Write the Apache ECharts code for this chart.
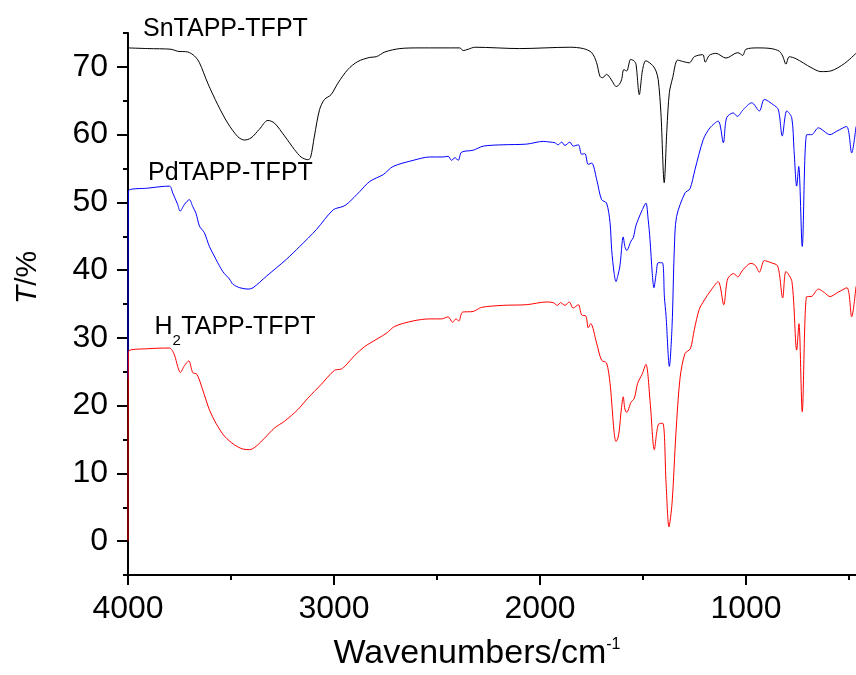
<!DOCTYPE html>
<html>
<head>
<meta charset="utf-8">
<script src="https://cdn.jsdelivr.net/npm/echarts@6/dist/echarts.min.js"></script>
<style>
  html, body { margin: 0; padding: 0; background: #fff; }
  #chart { width: 856px; height: 675px; }
</style>
</head>
<body>
<div id="chart"></div>
<script>
// FTIR transmittance spectra (wavenumber in cm^-1, transmittance in %)
const snWave = [4000, 3904, 3791, 3759, 3710, 3677, 3653, 3613, 3564, 3516, 3467, 3435, 3403, 3362, 3321, 3289, 3240, 3192, 3160, 3127, 3114, 3095, 3070, 3046, 3014, 2981, 2933, 2884, 2826, 2794, 2753, 2680, 2583, 2389, 2373, 2349, 2316, 2098, 1855, 1790, 1749, 1725, 1709, 1696, 1677, 1656, 1640, 1631, 1615, 1604, 1593, 1579, 1560, 1544, 1534, 1518, 1502, 1486, 1453, 1437, 1426, 1413, 1397, 1384, 1372, 1356, 1332, 1307, 1275, 1251, 1210, 1198, 1178, 1146, 1097, 1040, 1016, 1000, 943, 878, 838, 822, 806, 790, 757, 684, 636, 588, 522, 466];
const snT = [72.8, 72.7, 72.6, 72.3, 72.2, 71.6, 70.6, 67.6, 64.4, 61.7, 59.7, 59.2, 59.5, 60.8, 62.1, 61.7, 59.8, 57.8, 56.7, 56.3, 56.6, 59.8, 63.7, 65.2, 65.9, 67.6, 69.6, 70.8, 71.4, 71.5, 72.2, 72.7, 72.8, 72.8, 72.4, 72.6, 72.9, 72.7, 72.9, 72.7, 72.1, 70.6, 68.6, 68.4, 68.9, 68.2, 67.4, 67.1, 67.4, 68.1, 69.6, 69.4, 71.1, 70.9, 70.4, 65.9, 69.6, 70.9, 70.2, 69.4, 68.1, 63.2, 52.9, 60.8, 66.2, 68.4, 71.0, 70.8, 70.6, 71.5, 71.8, 70.7, 71.7, 72.0, 71.3, 72.1, 71.7, 72.6, 72.8, 72.7, 72.3, 71.6, 70.4, 71.5, 71.2, 69.9, 69.3, 69.4, 70.5, 72.0];

const pdWave = [4000, 3998, 3904, 3799, 3783, 3759, 3747, 3726, 3702, 3686, 3670, 3653, 3629, 3605, 3573, 3540, 3508, 3490, 3457, 3417, 3393, 3328, 3231, 3166, 3085, 3004, 2956, 2931, 2875, 2826, 2761, 2713, 2616, 2535, 2470, 2446, 2429, 2413, 2397, 2381, 2324, 2276, 2179, 2065, 1984, 1952, 1928, 1912, 1895, 1879, 1855, 1839, 1814, 1798, 1782, 1766, 1749, 1725, 1701, 1677, 1660, 1652, 1640, 1631, 1622, 1612, 1596, 1588, 1579, 1558, 1547, 1535, 1523, 1505, 1486, 1475, 1466, 1455, 1447, 1436, 1426, 1406, 1396, 1388, 1372, 1359, 1348, 1337, 1296, 1272, 1248, 1207, 1175, 1135, 1110, 1094, 1062, 1042, 1013, 972, 935, 911, 867, 843, 824, 802, 778, 767, 754, 744, 727, 705, 681, 649, 592, 560, 512, 487, 466];
const pdT = [24.0, 51.7, 52.1, 52.4, 51.4, 49.7, 48.7, 49.7, 50.4, 49.4, 48.4, 46.5, 45.5, 43.5, 41.6, 39.8, 38.7, 37.9, 37.4, 37.2, 37.4, 39.1, 41.6, 43.5, 46.0, 48.9, 49.4, 49.9, 51.6, 53.1, 54.1, 55.3, 56.2, 56.7, 56.7, 56.8, 56.2, 56.6, 56.2, 57.4, 57.7, 58.3, 58.5, 58.6, 59.0, 58.9, 58.8, 58.5, 58.9, 58.4, 58.9, 58.3, 58.5, 57.1, 57.2, 55.6, 55.8, 53.4, 50.4, 49.9, 47.0, 43.0, 39.5, 38.3, 39.2, 40.6, 44.9, 43.5, 42.9, 44.3, 44.8, 46.5, 47.5, 48.8, 49.9, 47.5, 44.5, 39.5, 37.4, 39.5, 41.1, 41.1, 36.0, 33.2, 25.8, 31.7, 43.0, 47.9, 51.4, 52.0, 54.8, 59.3, 61.0, 62.0, 58.8, 62.5, 63.2, 62.7, 63.7, 64.7, 63.5, 65.2, 64.4, 63.7, 59.8, 63.5, 62.5, 57.8, 52.4, 55.3, 43.5, 60.0, 60.0, 61.0, 60.0, 60.5, 61.2, 57.3, 61.2];

const h2Wave = [4000, 3998, 3904, 3799, 3775, 3759, 3746, 3726, 3705, 3686, 3665, 3637, 3605, 3573, 3532, 3483, 3443, 3410, 3378, 3337, 3289, 3240, 3176, 3127, 3063, 2998, 2965, 2941, 2900, 2852, 2826, 2745, 2705, 2616, 2535, 2478, 2446, 2424, 2408, 2394, 2376, 2324, 2284, 2179, 2065, 1968, 1936, 1916, 1900, 1879, 1858, 1839, 1814, 1798, 1777, 1766, 1754, 1725, 1701, 1677, 1660, 1652, 1640, 1631, 1622, 1615, 1605, 1596, 1588, 1579, 1558, 1542, 1526, 1505, 1486, 1465, 1445, 1426, 1404, 1388, 1374, 1359, 1340, 1320, 1296, 1270, 1251, 1227, 1202, 1173, 1135, 1108, 1089, 1060, 1040, 1016, 976, 955, 935, 911, 879, 846, 822, 806, 777, 754, 743, 727, 705, 684, 649, 620, 592, 555, 510, 487, 466];
const h2T = [0.0, 28.0, 28.4, 28.5, 27.5, 25.8, 24.9, 25.9, 26.6, 24.9, 24.6, 22.3, 19.4, 17.4, 15.5, 14.2, 13.6, 13.5, 14.0, 15.2, 16.7, 17.7, 19.4, 21.1, 23.1, 25.2, 25.4, 26.0, 27.4, 28.7, 29.2, 30.7, 31.7, 32.5, 32.8, 32.8, 33.1, 32.3, 32.8, 32.5, 33.8, 33.9, 34.5, 34.8, 34.9, 35.3, 35.2, 34.8, 35.2, 34.8, 35.3, 34.4, 34.9, 33.4, 33.2, 31.5, 32.1, 29.2, 26.7, 26.3, 23.3, 20.5, 16.0, 14.7, 15.2, 16.4, 19.5, 21.3, 19.5, 19.0, 20.5, 21.1, 23.3, 24.6, 26.1, 20.4, 13.5, 17.2, 17.4, 8.6, 2.1, 5.6, 16.0, 24.1, 27.7, 28.4, 31.2, 34.2, 35.6, 36.9, 38.3, 34.9, 38.7, 39.5, 39.0, 40.0, 41.0, 40.7, 39.7, 41.4, 41.1, 40.6, 35.9, 39.8, 38.3, 28.2, 32.1, 19.1, 36.1, 36.1, 37.2, 36.7, 36.1, 36.7, 37.4, 33.1, 37.6];

const seriesNames = ['SnTAPP-TFPT', 'PdTAPP-TFPT', 'H2TAPP-TFPT'];
const seriesColors = ['#000000', '#0000ff', '#ff0000'];

const xMajorTicks = [4000, 3000, 2000, 1000];
const xMinorTicks = [3500, 2500, 1500, 500];
const yMajorTicks = [0, 10, 20, 30, 40, 50, 60, 70];
const yMinorTicks = [-5, 5, 15, 25, 35, 45, 55, 65, 75];

const FONT = '"Liberation Sans", Arial, Helvetica, sans-serif';

function zip(xs, ys) { return xs.map((x, i) => [x, ys[i]]); }
const plainNumber = v => String(v);

const chart = echarts.init(document.getElementById('chart'), null, { renderer: 'canvas' });

const xRange = { min: 466, max: 4000 };
const yRange = { min: -5, max: 75 };

const option = {
  animation: false,
  backgroundColor: '#ffffff',
  grid: { left: 128, right: 0, top: 33, bottom: 100, outerBoundsMode: 'none', containLabel: false },
  xAxis: [
    {
      type: 'value', inverse: true, min: xRange.min, max: xRange.max, position: 'bottom',
      axisLine: { show: true, onZero: false, lineStyle: { color: '#000', width: 2 } },
      axisTick: { show: true, inside: false, length: 10, customValues: xMajorTicks, lineStyle: { color: '#000', width: 2 } },
      axisLabel: { show: true, customValues: xMajorTicks, formatter: plainNumber, margin: 18, color: '#000', fontSize: 32, fontFamily: FONT },
      splitLine: { show: false },
      name: '{a|Wavenumbers/cm}{b|-1}',
      nameLocation: 'middle',
      nameGap: 62,
      nameTextStyle: {
        padding: [0, 30, 0, 0],
        rich: {
          a: { fontSize: 34, fontFamily: FONT, color: '#000' },
          b: { fontSize: 16, fontFamily: FONT, color: '#000', verticalAlign: 'top' }
        }
      }
    },
    {
      type: 'value', inverse: true, min: xRange.min, max: xRange.max, position: 'bottom', gridIndex: 0,
      axisLine: { show: false, onZero: false },
      axisTick: { show: true, inside: false, length: 5, customValues: xMinorTicks, lineStyle: { color: '#000', width: 2 } },
      axisLabel: { show: false },
      splitLine: { show: false }
    }
  ],
  yAxis: [
    {
      type: 'value', min: yRange.min, max: yRange.max, position: 'left',
      axisLine: { show: true, onZero: false, lineStyle: { color: '#000', width: 2 } },
      axisTick: { show: true, inside: false, length: 11, customValues: yMajorTicks, lineStyle: { color: '#000', width: 2 } },
      axisLabel: { show: true, customValues: yMajorTicks, formatter: plainNumber, margin: 20, color: '#000', fontSize: 32, fontFamily: FONT },
      splitLine: { show: false },
      name: '{i|T}{n|/%}',
      nameLocation: 'middle',
      nameRotate: 90,
      nameGap: 85,
      nameTextStyle: {
        padding: [0, 0, 0, 53],
        rich: {
          i: { fontSize: 30, fontStyle: 'italic', fontFamily: FONT, color: '#000' },
          n: { fontSize: 30, fontFamily: FONT, color: '#000' }
        }
      }
    },
    {
      type: 'value', min: yRange.min, max: yRange.max, position: 'left', gridIndex: 0,
      axisLine: { show: false, onZero: false },
      axisTick: { show: true, inside: false, length: 5, customValues: yMinorTicks, lineStyle: { color: '#000', width: 2 } },
      axisLabel: { show: false },
      splitLine: { show: false }
    }
  ],
  series: [
    { name: seriesNames[0], data: zip(snWave, snT) },
    { name: seriesNames[1], data: zip(pdWave, pdT) },
    { name: seriesNames[2], data: zip(h2Wave, h2T) }
  ].map((s, i) => ({
    type: 'line',
    name: s.name,
    data: s.data,
    xAxisIndex: 0,
    yAxisIndex: 0,
    showSymbol: false,
    symbol: 'none',
    smooth: 0.3,
    lineStyle: { color: seriesColors[i], width: 1 },
    itemStyle: { color: seriesColors[i] },
    z: 3 + i
  })),
  graphic: [
    { type: 'text', x: 143, y: 29, style: { text: 'SnTAPP-TFPT', fill: '#000', fontSize: 25, fontFamily: FONT, align: 'left', verticalAlign: 'middle' } },
    { type: 'text', x: 148, y: 173, style: { text: 'PdTAPP-TFPT', fill: '#000', fontSize: 25, fontFamily: FONT, align: 'left', verticalAlign: 'middle' } },
    { type: 'text', x: 154.5, y: 327, style: { text: 'H', fill: '#000', fontSize: 25, fontFamily: FONT, align: 'left', verticalAlign: 'middle' } },
    { type: 'text', x: 172.5, y: 341, style: { text: '2', fill: '#000', fontSize: 15, fontFamily: FONT, align: 'left', verticalAlign: 'middle' } },
    { type: 'text', x: 181.3, y: 327, style: { text: 'TAPP-TFPT', fill: '#000', fontSize: 25, fontFamily: FONT, align: 'left', verticalAlign: 'middle' } }
  ]
};

chart.setOption(option);
</script>
</body>
</html>
